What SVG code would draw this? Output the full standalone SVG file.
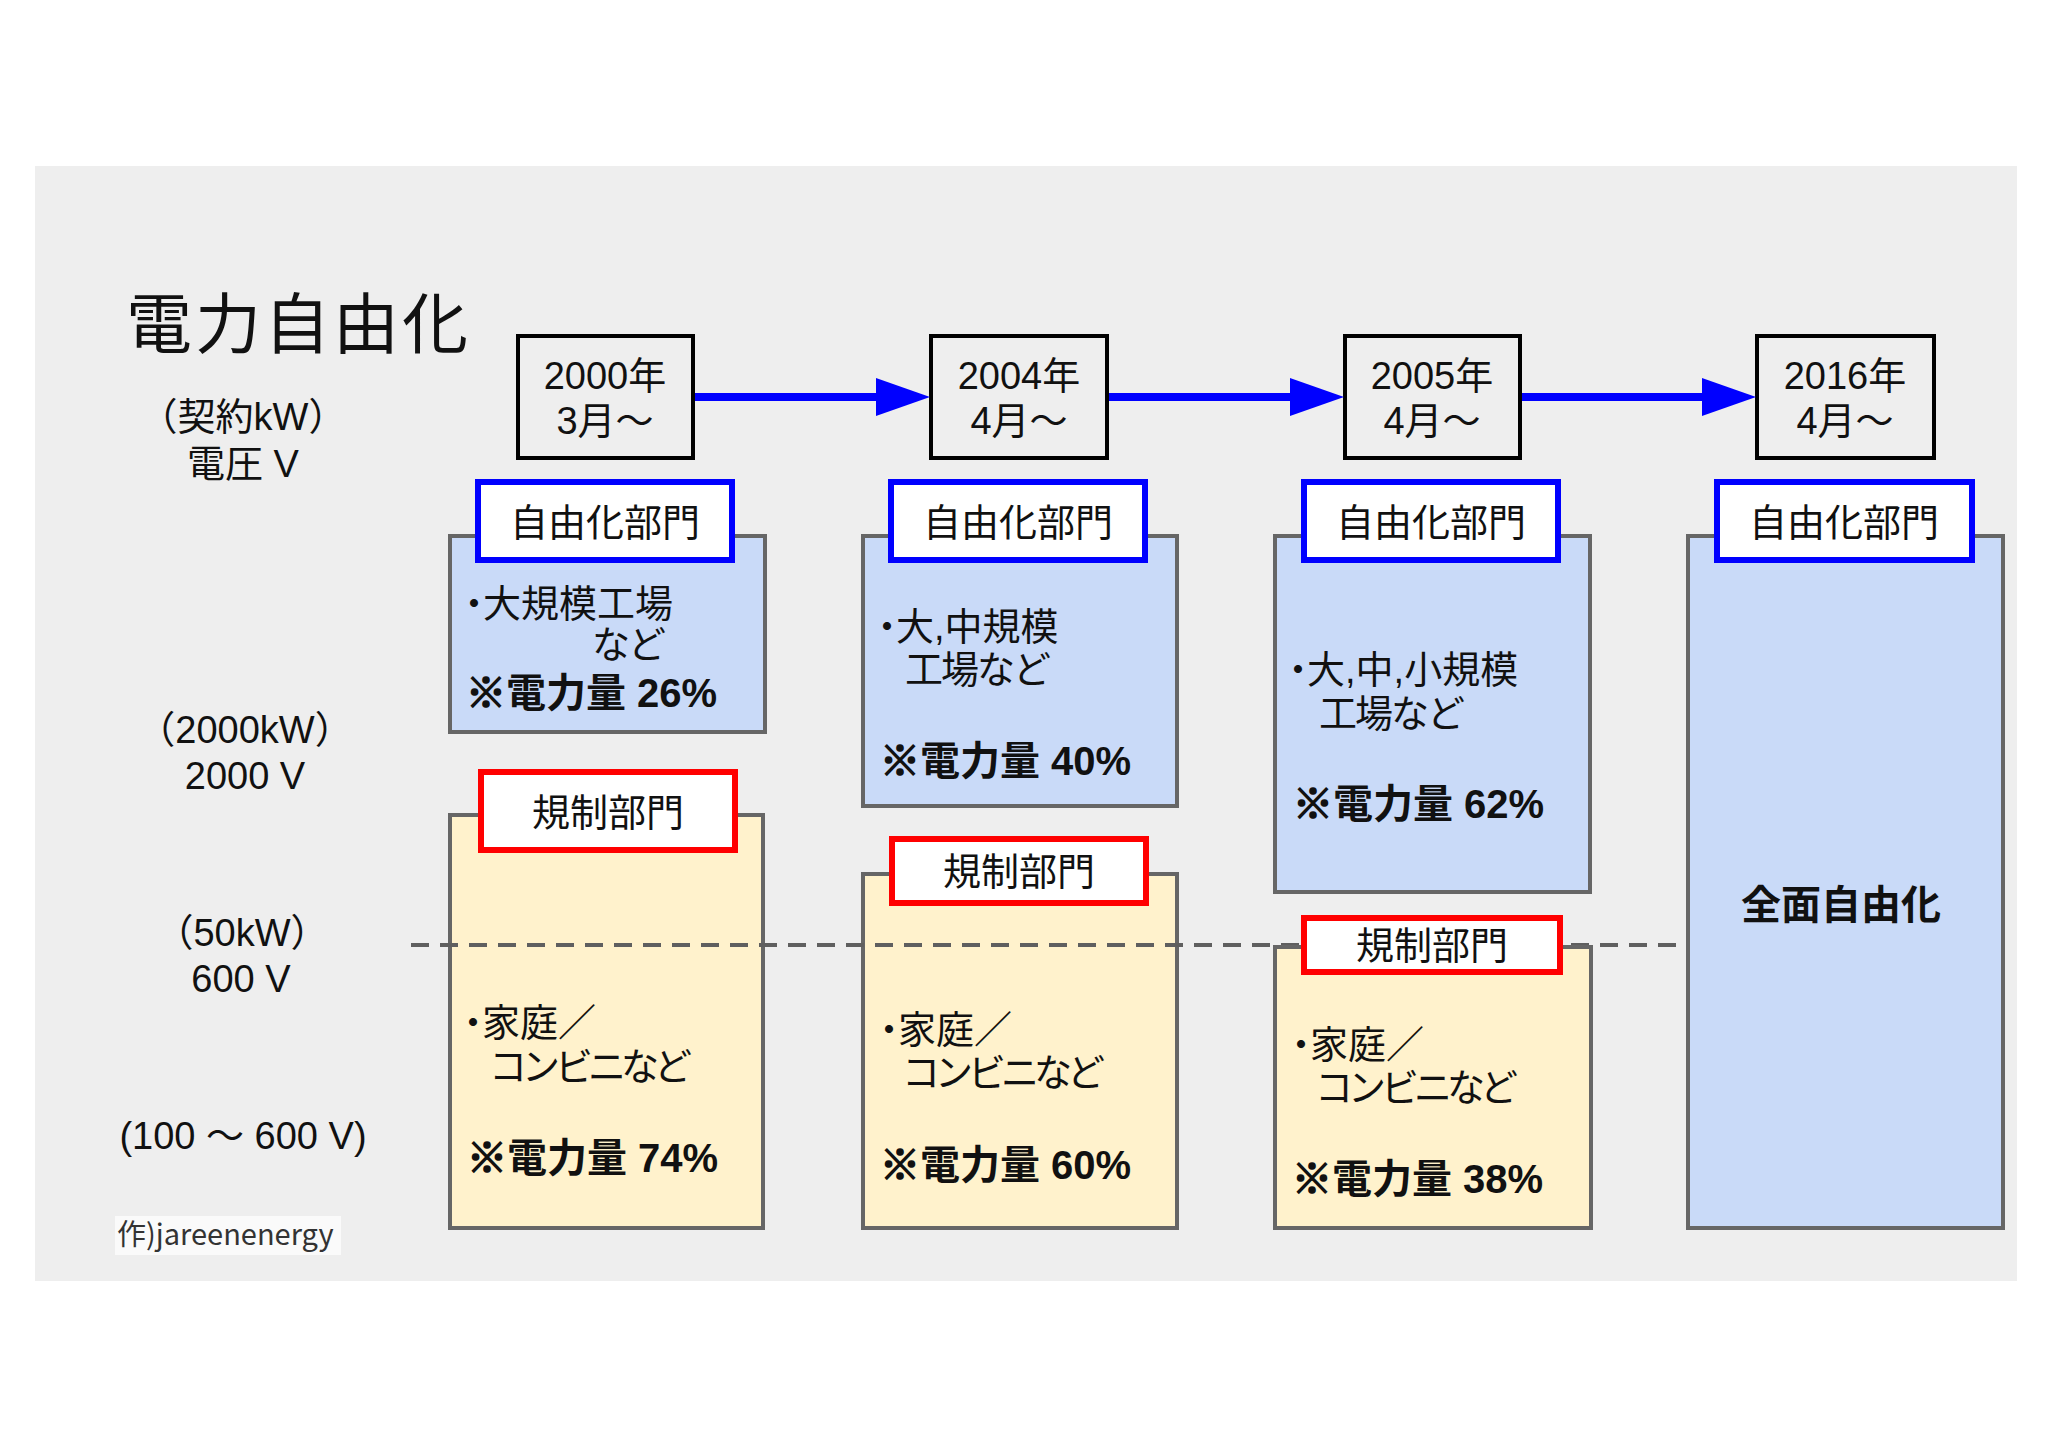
<svg xmlns="http://www.w3.org/2000/svg" width="2048" height="1448" viewBox="0 0 2048 1448">
<defs>
<style>
text{font-family:"Liberation Sans","Noto Sans CJK JP",sans-serif;fill:#111;}
.t38{font-size:38px;}
.mid{text-anchor:middle;}
.b{font-weight:bold;font-size:40px;}
.jp{font-family:"Noto Sans CJK JP",sans-serif;}
.kome{stroke:#111;stroke-width:1.6px;}
.dot{letter-spacing:-10px;}
.kana{letter-spacing:-5px;}
.kana2{letter-spacing:-2px;}
.date{fill:none;stroke:#000;stroke-width:4;}
.hl{fill:#fff;stroke:#0000ff;stroke-width:6;}
.hr{fill:#fff;stroke:#ff0000;stroke-width:6;}
.lib{fill:#c9daf8;stroke:#666;stroke-width:4;}
.reg{fill:#fff2cc;stroke:#666;stroke-width:4;}
.arrow{fill:none;stroke:#0000ff;stroke-width:8;}
.dash{fill:none;stroke:#5f5f5f;stroke-width:4;stroke-dasharray:18 11;}
</style>
<marker id="ah" markerUnits="userSpaceOnUse" markerWidth="56" markerHeight="40" refX="0" refY="19" orient="auto">
<path d="M0,0 L54,19 L0,38 Z" fill="#0000ff"/>
</marker>
</defs>
<rect x="0" y="0" width="2048" height="1448" fill="#fff"/>
<rect x="35" y="166" width="1982" height="1115" fill="#eeeeee"/>

<g id="title">
<text x="126" y="348" style="font-size:66px;letter-spacing:3px">電力自由化</text>
</g>

<g id="axis-labels">
<text class="t38 mid" x="243" y="430">（契約kW）</text>
<text class="t38 mid" x="243" y="477">電圧 V</text>
<text class="t38 mid" x="245" y="743">（2000kW）</text>
<text class="t38 mid" x="245" y="789">2000 V</text>
<text class="t38 mid" x="242" y="946">（50kW）</text>
<text class="t38 mid" x="241" y="992">600 V</text>
<text class="t38 mid" x="243" y="1149">(100 ～ 600 V)</text>
</g>

<g id="credit">
<rect x="115" y="1216" width="226" height="39" fill="#fafafa"/>
<text x="117" y="1245" style="font-size:29px;fill:#333;font-family:'Noto Sans CJK JP','Noto Sans',sans-serif">作)jareenenergy</text>
</g>

<g id="date-2000">
<rect class="date" x="518" y="336" width="175" height="122"/>
<text class="t38 mid" x="605" y="389">2000年</text>
<text class="t38 mid" x="605" y="434">3月～</text>
</g>
<g id="date-2004">
<rect class="date" x="931" y="336" width="176" height="122"/>
<text class="t38 mid" x="1019" y="389">2004年</text>
<text class="t38 mid" x="1019" y="434">4月～</text>
</g>
<g id="date-2005">
<rect class="date" x="1345" y="336" width="175" height="122"/>
<text class="t38 mid" x="1432" y="389">2005年</text>
<text class="t38 mid" x="1432" y="434">4月～</text>
</g>
<g id="date-2016">
<rect class="date" x="1757" y="336" width="177" height="122"/>
<text class="t38 mid" x="1845" y="389">2016年</text>
<text class="t38 mid" x="1845" y="434">4月～</text>
</g>

<g id="lib-2000">
<rect class="lib" x="450" y="536" width="315" height="196"/>
<rect class="hl" x="478" y="482" width="254" height="78"/>
<text class="t38 mid" x="605" y="536">自由化部門</text>
<text class="t38" x="455" y="617"><tspan class="dot">・</tspan>大規模工場</text>
<text class="t38 kana2" x="592" y="658">など</text>
<text class="b" x="466" y="707"><tspan class="jp kome">※</tspan><tspan class="jp">電力量</tspan> 26%</text>
</g>

<g id="reg-2000">
<rect class="reg" x="450" y="815" width="313" height="413"/>
<rect class="hr" x="481" y="772" width="254" height="78"/>
<text class="t38 mid" x="608" y="826">規制部門</text>
<text class="t38" x="454" y="1036"><tspan class="dot">・</tspan>家庭／</text>
<text class="t38 kana" x="489" y="1080">コンビニなど</text>
<text class="b" x="467" y="1172"><tspan class="jp kome">※</tspan><tspan class="jp">電力量</tspan> 74%</text>
</g>

<g id="lib-2004">
<rect class="lib" x="863" y="536" width="314" height="270"/>
<rect class="hl" x="891" y="482" width="254" height="78"/>
<text class="t38 mid" x="1018" y="536">自由化部門</text>
<text class="t38" x="868" y="640"><tspan class="dot">・</tspan>大,中規模</text>
<text class="t38 kana2" x="905" y="683">工場など</text>
<text class="b" x="880" y="775"><tspan class="jp kome">※</tspan><tspan class="jp">電力量</tspan> 40%</text>
</g>

<g id="reg-2004">
<rect class="reg" x="863" y="874" width="314" height="354"/>
<rect class="hr" x="892" y="839" width="254" height="64"/>
<text class="t38 mid" x="1019" y="885">規制部門</text>
<text class="t38" x="870" y="1043"><tspan class="dot">・</tspan>家庭／</text>
<text class="t38 kana" x="902" y="1086">コンビニなど</text>
<text class="b" x="880" y="1179"><tspan class="jp kome">※</tspan><tspan class="jp">電力量</tspan> 60%</text>
</g>

<g id="lib-2005">
<rect class="lib" x="1275" y="536" width="315" height="356"/>
<rect class="hl" x="1304" y="482" width="254" height="78"/>
<text class="t38 mid" x="1431" y="536">自由化部門</text>
<text class="t38" x="1279" y="683"><tspan class="dot">・</tspan>大,中,小規模</text>
<text class="t38 kana2" x="1319" y="727">工場など</text>
<text class="b" x="1293" y="818"><tspan class="jp kome">※</tspan><tspan class="jp">電力量</tspan> 62%</text>
</g>

<g id="lib-2016">
<rect class="lib" x="1688" y="536" width="315" height="692"/>
<rect class="hl" x="1717" y="482" width="255" height="78"/>
<text class="t38 mid" x="1844" y="536">自由化部門</text>
<text class="b mid" x="1841" y="919">全面自由化</text>
</g>

<g id="connectors">
<path class="arrow" d="M695,397 H876" marker-end="url(#ah)"/>
<path class="arrow" d="M1109,397 H1290" marker-end="url(#ah)"/>
<path class="arrow" d="M1522,397 H1702" marker-end="url(#ah)"/>
<path class="dash" d="M411,945 H1686"/>
</g>

<g id="reg-2005">
<rect class="reg" x="1275" y="947" width="316" height="281"/>
<rect class="hr" x="1304" y="918" width="256" height="54"/>
<text class="t38 mid" x="1432" y="959">規制部門</text>
<text class="t38" x="1282" y="1058"><tspan class="dot">・</tspan>家庭／</text>
<text class="t38 kana" x="1315" y="1101">コンビニなど</text>
<text class="b" x="1292" y="1193"><tspan class="jp kome">※</tspan><tspan class="jp">電力量</tspan> 38%</text>
</g>
</svg>
